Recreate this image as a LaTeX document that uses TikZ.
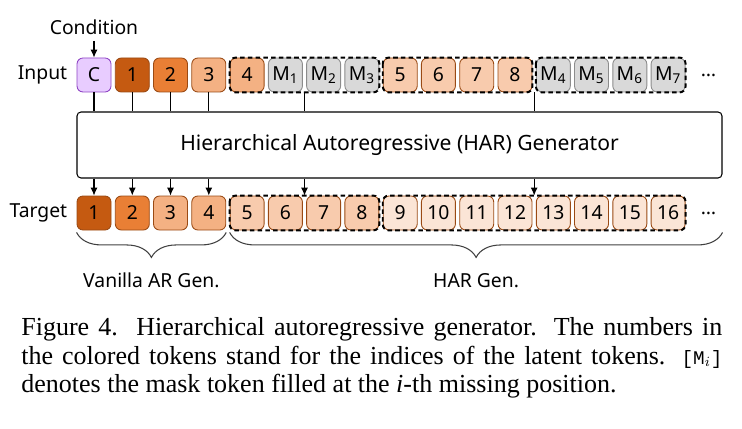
\documentclass[tikz,border=0pt]{standalone}
\usepackage{fontspec}
\setmainfont{Liberation Serif}
\setsansfont{Noto Sans}
\setmonofont{Liberation Mono}
\usetikzlibrary{positioning,calc,arrows.meta,decorations.pathreplacing}
\definecolor{tokA}{HTML}{C55A11}
\definecolor{tokB}{HTML}{E97F35}
\definecolor{tokC}{HTML}{F4B183}
\definecolor{tokD}{HTML}{F8CBAD}
\definecolor{tokE}{HTML}{FBE5D6}
\definecolor{tokBorder}{HTML}{9A4A14}
\definecolor{maskFill}{HTML}{D9D9D9}
\definecolor{maskBorder}{HTML}{8C8C8C}
\definecolor{condFill}{HTML}{E8CCFF}
\definecolor{condBorder}{HTML}{8E44C4}
\newfontfamily\capfont{Liberation Serif}
\newfontfamily\capmono{Liberation Mono}

\begin{document}
\begin{tikzpicture}[x=0.2mm, y=-0.2mm,
  font=\sffamily\fontsize{11}{13}\selectfont,
  tok/.style={draw=tokBorder, rounded corners=1.2mm, minimum width=6.8mm, minimum height=6.8mm, inner sep=0pt, line width=0.5pt},
  mask/.style={tok, draw=maskBorder, fill=maskFill},
  grp/.style={draw=black, dashed, dash pattern=on 2.6pt off 1.8pt, line width=1.1pt, rounded corners=1.2mm},
  link/.style={draw=black, line width=0.6pt},
  arr/.style={link, -{Latex[length=1.6mm, width=1.4mm]}},
  brc/.style={draw=black!75, line width=0.6pt, decorate, decoration={brace, mirror, amplitude=5mm}},
  lbl/.style={inner sep=0pt}]
\useasboundingbox (0,0) rectangle (742,428);

% input tokens
\node[tok, draw=condBorder, fill=condFill] (C) at (94,75) {C};
\node[tok, fill=tokA] (i1) at (132.3,75) {1};
\node[tok, fill=tokB] (i2) at (170.5,75) {2};
\node[tok, fill=tokC] (i3) at (208.8,75) {3};
\node[tok, fill=tokC] (i4) at (247.1,75) {4};
\node[mask] (m1) at (285.4,75) {M\textsubscript{1}};
\node[mask] (m2) at (323.6,75) {M\textsubscript{2}};
\node[mask] (m3) at (361.9,75) {M\textsubscript{3}};
\node[tok, fill=tokD] (i5) at (400.2,75) {5};
\node[tok, fill=tokD] (i6) at (438.4,75) {6};
\node[tok, fill=tokD] (i7) at (476.7,75) {7};
\node[tok, fill=tokD] (i8) at (515,75) {8};
\node[mask] (m4) at (553.3,75) {M\textsubscript{4}};
\node[mask] (m5) at (591.5,75) {M\textsubscript{5}};
\node[mask] (m6) at (629.8,75) {M\textsubscript{6}};
\node[mask] (m7) at (668.1,75) {M\textsubscript{7}};
\node[lbl, right=3mm of m7] (idots) {\dots};
\draw[grp] (i4.north west) rectangle (m3.south east);
\draw[grp] (i5.north west) rectangle (i8.south east);
\draw[grp] (m4.north west) rectangle (m7.south east);

\node[lbl, left=1.8mm of C] (inlab) {Input};
\node[lbl] (cond) at (94,27) {Condition};
\draw[arr] ([yshift=-1.2mm]cond.south) -- (C.north);

% generator
\node[draw, line width=0.6pt, rounded corners=0.8mm, minimum width=129mm, minimum height=13.2mm,
  font=\sffamily\fontsize{12}{14}\selectfont] (gen) at (399.5,145) {Hierarchical Autoregressive (HAR) Generator};

% target tokens
\node[tok, fill=tokA] (t1) at (94,213) {1};
\node[tok, fill=tokB] (t2) at (132.3,213) {2};
\node[tok, fill=tokC] (t3) at (170.5,213) {3};
\node[tok, fill=tokC] (t4) at (208.8,213) {4};
\node[tok, fill=tokD] (t5) at (247.1,213) {5};
\node[tok, fill=tokD] (t6) at (285.4,213) {6};
\node[tok, fill=tokD] (t7) at (323.6,213) {7};
\node[tok, fill=tokD] (t8) at (361.9,213) {8};
\node[tok, fill=tokE] (t9) at (400.2,213) {9};
\node[tok, fill=tokE] (t10) at (438.4,213) {10};
\node[tok, fill=tokE] (t11) at (476.7,213) {11};
\node[tok, fill=tokE] (t12) at (515,213) {12};
\node[tok, fill=tokE] (t13) at (553.3,213) {13};
\node[tok, fill=tokE] (t14) at (591.5,213) {14};
\node[tok, fill=tokE] (t15) at (629.8,213) {15};
\node[tok, fill=tokE] (t16) at (668.1,213) {16};
\node[lbl, right=3mm of t16] (tdots) {\dots};
\draw[grp] (t5.north west) rectangle (t8.south east);
\draw[grp] (t9.north west) rectangle (t16.south east);

\node[lbl, left=1.8mm of t1] (tgtlab) {Target};

% connectors into the generator
\coordinate (g1) at ($(m1.south east)!0.5!(m2.south west)$);
\coordinate (g2) at ($(i8.south east)!0.5!(m4.south west)$);
\draw[link] (C.south) -- (C.south |- gen.north);
\draw[link] (i1.south) -- (i1.south |- gen.north);
\draw[link] (i2.south) -- (i2.south |- gen.north);
\draw[link] (i3.south) -- (i3.south |- gen.north);
\draw[link] (g1) -- (g1 |- gen.north);
\draw[link] (g2) -- (g2 |- gen.north);

% connectors out of the generator
\coordinate (h1) at ($(t6.north east)!0.5!(t7.north west)$);
\coordinate (h2) at ($(t12.north east)!0.5!(t13.north west)$);
\draw[arr] (t1.north |- gen.south) -- (t1.north);
\draw[arr] (t2.north |- gen.south) -- (t2.north);
\draw[arr] (t3.north |- gen.south) -- (t3.north);
\draw[arr] (t4.north |- gen.south) -- (t4.north);
\draw[arr] (h1 |- gen.south) -- (h1);
\draw[arr] (h2 |- gen.south) -- (h2);

% braces
\coordinate (harend) at (gen.east |- t16.south);
\draw[brc] ([yshift=-0.4mm]t1.south west) -- ([yshift=-0.4mm]t4.south east)
  node[lbl, midway, yshift=-9.6mm] (vanilla) {Vanilla AR Gen.};
\draw[brc] ([yshift=-0.4mm]t5.south west) -- ([yshift=-0.4mm]harend)
  node[lbl, midway, yshift=-9.6mm] (hargen) {HAR Gen.};

% caption
\node[lbl, anchor=north west, text width=140.2mm, align=justify,
  font=\capfont\fontsize{14.8}{16.3}\selectfont] (caption) at (21,317)
  {Figure 4.\ \ Hierarchical autoregressive generator. The numbers in\linebreak
   the colored tokens stand for the indices of the latent tokens. {\capmono\fontsize{11}{13}\selectfont[M$_i$]}\linebreak
   denotes the mask token filled at the \textit{i}-th missing position.};
\end{tikzpicture}
\end{document}
